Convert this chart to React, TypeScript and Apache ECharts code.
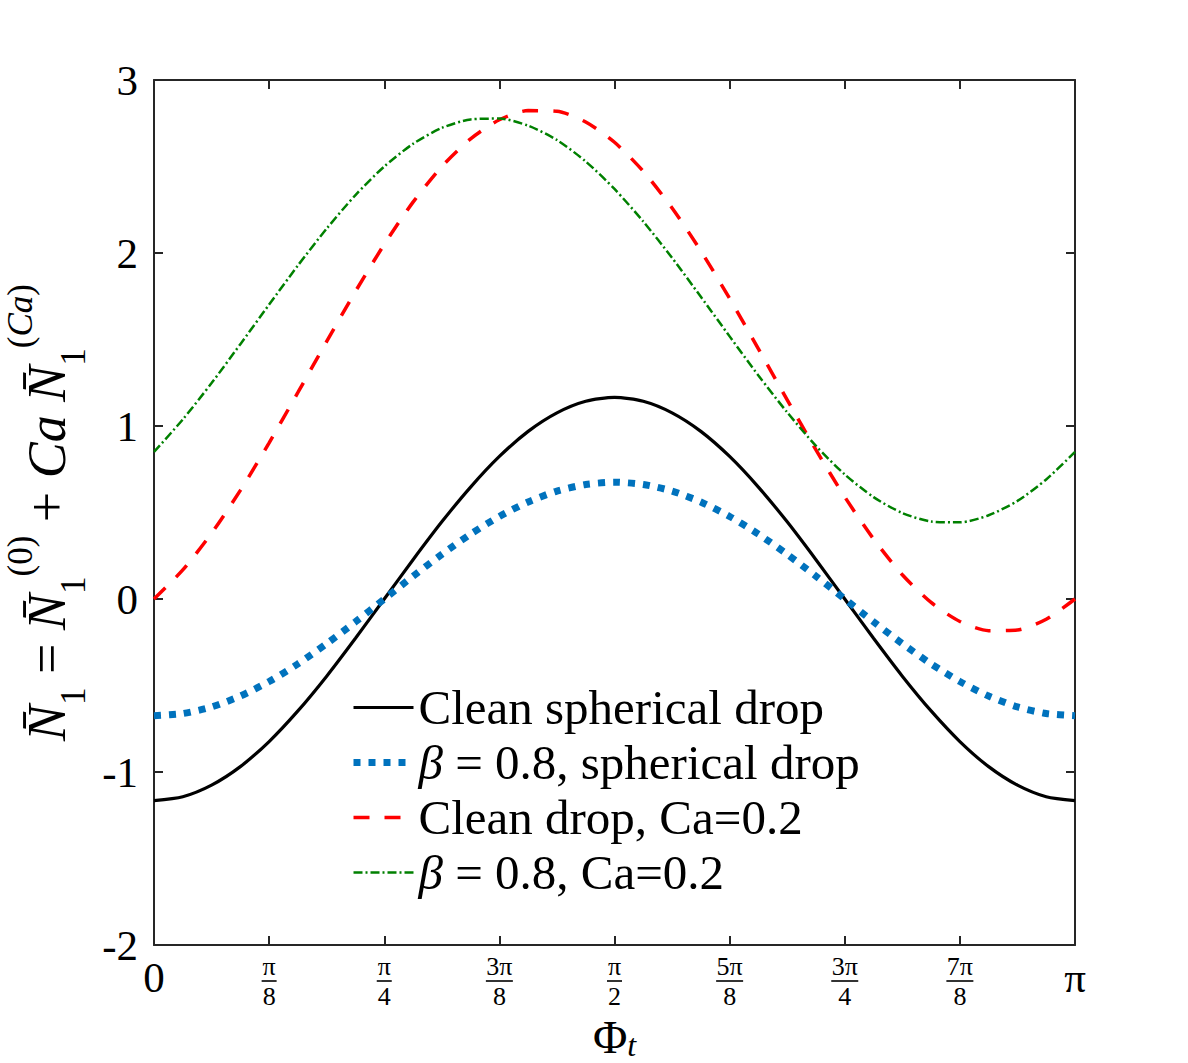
import React, { useEffect, useRef } from "react";
import * as echarts from "echarts";

// x positions, in units of π (steps of π/32)
const phiOverPi = [
  0, 0.03125, 0.0625, 0.09375, 0.125, 0.15625, 0.1875, 0.21875, 0.25, 0.28125, 0.3125, 0.34375, 0.375, 0.40625, 0.4375, 0.46875,
  0.5, 0.53125, 0.5625, 0.59375, 0.625, 0.65625, 0.6875, 0.71875, 0.75, 0.78125, 0.8125, 0.84375, 0.875, 0.90625, 0.9375, 0.96875, 1,
];

const cleanSpherical = [
  -1.165, -1.143, -1.076, -0.969, -0.824, -0.647, -0.446, -0.227, 0, 0.227, 0.446, 0.647, 0.824, 0.969, 1.076, 1.143,
  1.165, 1.143, 1.076, 0.969, 0.824, 0.647, 0.446, 0.227, 0, -0.227, -0.446, -0.647, -0.824, -0.969, -1.076, -1.143, -1.165,
];
const betaSpherical = [
  -0.675, -0.662, -0.624, -0.561, -0.477, -0.375, -0.258, -0.132, 0, 0.132, 0.258, 0.375, 0.477, 0.561, 0.624, 0.662,
  0.675, 0.662, 0.624, 0.561, 0.477, 0.375, 0.258, 0.132, 0, -0.132, -0.258, -0.375, -0.477, -0.561, -0.624, -0.662, -0.675,
];
const cleanCa = [
  0, 0.168, 0.38, 0.628, 0.903, 1.194, 1.489, 1.778, 2.05, 2.294, 2.5, 2.66, 2.77, 2.823, 2.819, 2.757,
  2.64, 2.472, 2.26, 2.012, 1.737, 1.446, 1.151, 0.862, 0.59, 0.347, 0.14, -0.02, -0.13, -0.183, -0.179, -0.117, 0,
];
const betaCa = [
  0.85, 1.038, 1.248, 1.473, 1.702, 1.928, 2.141, 2.335, 2.5, 2.631, 2.723, 2.772, 2.777, 2.736, 2.653, 2.529,
  2.37, 2.182, 1.972, 1.747, 1.518, 1.292, 1.079, 0.885, 0.72, 0.589, 0.497, 0.448, 0.443, 0.484, 0.567, 0.691, 0.85,
];

const seriesNames = ["Clean spherical drop", "β = 0.8, spherical drop", "Clean drop, Ca=0.2", "β = 0.8, Ca=0.2"];
const xTickLabels = ["0", "π/8", "π/4", "3π/8", "π/2", "5π/8", "3π/4", "7π/8", "π"];
const yTicks = { min: -2, max: 3, step: 1 };

const FONT = "Liberation Serif";
const AX = "#262626";

export default function App() {
  const ref = useRef<HTMLDivElement>(null);
  useEffect(() => {
    if (!ref.current) return;
    const chart = echarts.init(ref.current, undefined, { renderer: "svg" });
    const PI = Math.PI;
    const toData = (vals: number[]) => vals.map((v, i) => [phiOverPi[i] * PI, v]);

    const xLabel = (v: number) => {
      const k = Math.round(v / (PI / 8));
      const s = xTickLabels[k] ?? "";
      if (!s.includes("/")) return `{big|${s}}`;
      const [n, d] = s.split("/");
      const barStyle = n.length > 1 ? "bar2" : "bar1";
      return `{num|${n}}\n{${barStyle}|\u00a0}\n{den|${d}}`;
    };

    const frameAxisLine = { show: true, onZero: false, lineStyle: { color: AX, width: 2 } };
    const tick = { show: true, inside: false, length: -9, lineStyle: { color: AX, width: 2 } };

    const option: any = {
      animation: false,
      backgroundColor: "#ffffff",
      grid: { left: 154, right: 113, top: 80, bottom: 118, containLabel: false, outerBoundsMode: "none" },
      legend: {
        orient: "vertical",
        left: 345,
        top: 675,
        itemWidth: 60,
        itemHeight: 14,
        itemGap: 0,
        data: seriesNames,
        itemStyle: { color: "transparent", borderWidth: 0, opacity: 0 },
        lineStyle: { width: "inherit" },
        formatter: (name: string) => name.replace("β", "{i|β}"),
        textStyle: {
          fontFamily: FONT,
          fontSize: 49,
          color: "#000",
          lineHeight: 55,
          rich: {
            i: { fontFamily: FONT, fontSize: 49, fontStyle: "italic", color: "#000", lineHeight: 55 },
          },
        },
      },
      xAxis: [
        {
          type: "value",
          position: "bottom",
          min: 0,
          max: PI,
          interval: PI / 8,
          axisLine: frameAxisLine,
          axisTick: tick,
          splitLine: { show: false },
          axisLabel: {
            margin: 9,
            formatter: xLabel,
            color: "#000",
            fontFamily: FONT,
            rich: {
              big: { fontFamily: FONT, fontSize: 43, lineHeight: 46, color: "#000", align: "center" },
              num: { fontFamily: FONT, fontSize: 26, lineHeight: 24, color: "#000", align: "center" },
              den: { fontFamily: FONT, fontSize: 26, lineHeight: 24, color: "#000", align: "center" },
              bar1: { width: 15, height: 1.6, lineHeight: 6, fontSize: 2, backgroundColor: "#000", align: "center" },
              bar2: { width: 27, height: 1.6, lineHeight: 6, fontSize: 2, backgroundColor: "#000", align: "center" },
            },
          },
          name: "{phi|Φ}{sub|t}",
          nameLocation: "middle",
          nameGap: 45,
          nameTextStyle: {
            rich: {
              phi: { fontFamily: FONT, fontSize: 47, lineHeight: 48, color: "#000", verticalAlign: "middle" },
              sub: { fontFamily: FONT, fontSize: 32, fontStyle: "italic", lineHeight: 20, color: "#000", verticalAlign: "bottom" },
            },
          },
        },
        {
          type: "value",
          position: "top",
          min: 0,
          max: PI,
          interval: PI / 8,
          axisLine: frameAxisLine,
          axisTick: tick,
          axisLabel: { show: false },
          splitLine: { show: false },
        },
      ],
      yAxis: [
        {
          type: "value",
          position: "left",
          min: yTicks.min,
          max: yTicks.max,
          interval: yTicks.step,
          axisLine: frameAxisLine,
          axisTick: tick,
          splitLine: { show: false },
          axisLabel: { margin: 16, fontFamily: FONT, fontSize: 43, color: "#000" },
          name:
            "{ni|N̄}{sub|1}{eq| = }{ni|N̄}{sub|1}{sup|(0)}{eq| + }{ni|Ca}{eq| }{ni|N̄}{sub|1}{sup|(}{supi|Ca}{sup|)}",
          nameLocation: "middle",
          nameRotate: 90,
          nameGap: 44,
          nameTextStyle: {
            rich: {
              ni: { fontFamily: FONT, fontSize: 54, fontStyle: "italic", lineHeight: 88, color: "#000", verticalAlign: "middle" },
              eq: { fontFamily: FONT, fontSize: 54, lineHeight: 88, color: "#000", verticalAlign: "middle" },
              sub: { fontFamily: FONT, fontSize: 35, lineHeight: 44, color: "#000", verticalAlign: "bottom" },
              sup: { fontFamily: FONT, fontSize: 35, lineHeight: 48, color: "#000", verticalAlign: "top" },
              supi: { fontFamily: FONT, fontSize: 35, fontStyle: "italic", lineHeight: 48, color: "#000", verticalAlign: "top" },
            },
          },
        },
        {
          type: "value",
          position: "right",
          min: yTicks.min,
          max: yTicks.max,
          interval: yTicks.step,
          axisLine: frameAxisLine,
          axisTick: tick,
          axisLabel: { show: false },
          splitLine: { show: false },
        },
      ],
      series: [
        {
          name: seriesNames[0],
          type: "line",
          data: toData(cleanSpherical),
          smooth: 0.25,
          symbol: "none",
          lineStyle: { color: "#000000", width: 3.2, type: "solid" },
          itemStyle: { color: "#000000" },
        },
        {
          name: seriesNames[1],
          type: "line",
          data: toData(betaSpherical),
          smooth: 0.25,
          symbol: "none",
          lineStyle: { color: "#0072BD", width: 7, type: [7, 8], cap: "butt" },
          itemStyle: { color: "#0072BD" },
        },
        {
          name: seriesNames[2],
          type: "line",
          data: toData(cleanCa),
          smooth: 0.25,
          symbol: "none",
          lineStyle: { color: "#FF0000", width: 3.5, type: [16, 15], cap: "butt" },
          itemStyle: { color: "#FF0000" },
        },
        {
          name: seriesNames[3],
          type: "line",
          data: toData(betaCa),
          smooth: 0.25,
          symbol: "none",
          lineStyle: { color: "#008000", width: 2.5, type: [9, 3, 2, 3], cap: "butt" },
          itemStyle: { color: "#008000" },
        },
      ],
    };
    chart.setOption(option);
    return () => chart.dispose();
  }, []);

  return (
    <div
      ref={ref}
      style={{ position: "absolute", left: 0, top: 0, width: 1188, height: 1063, background: "#fff" }}
    />
  );
}
